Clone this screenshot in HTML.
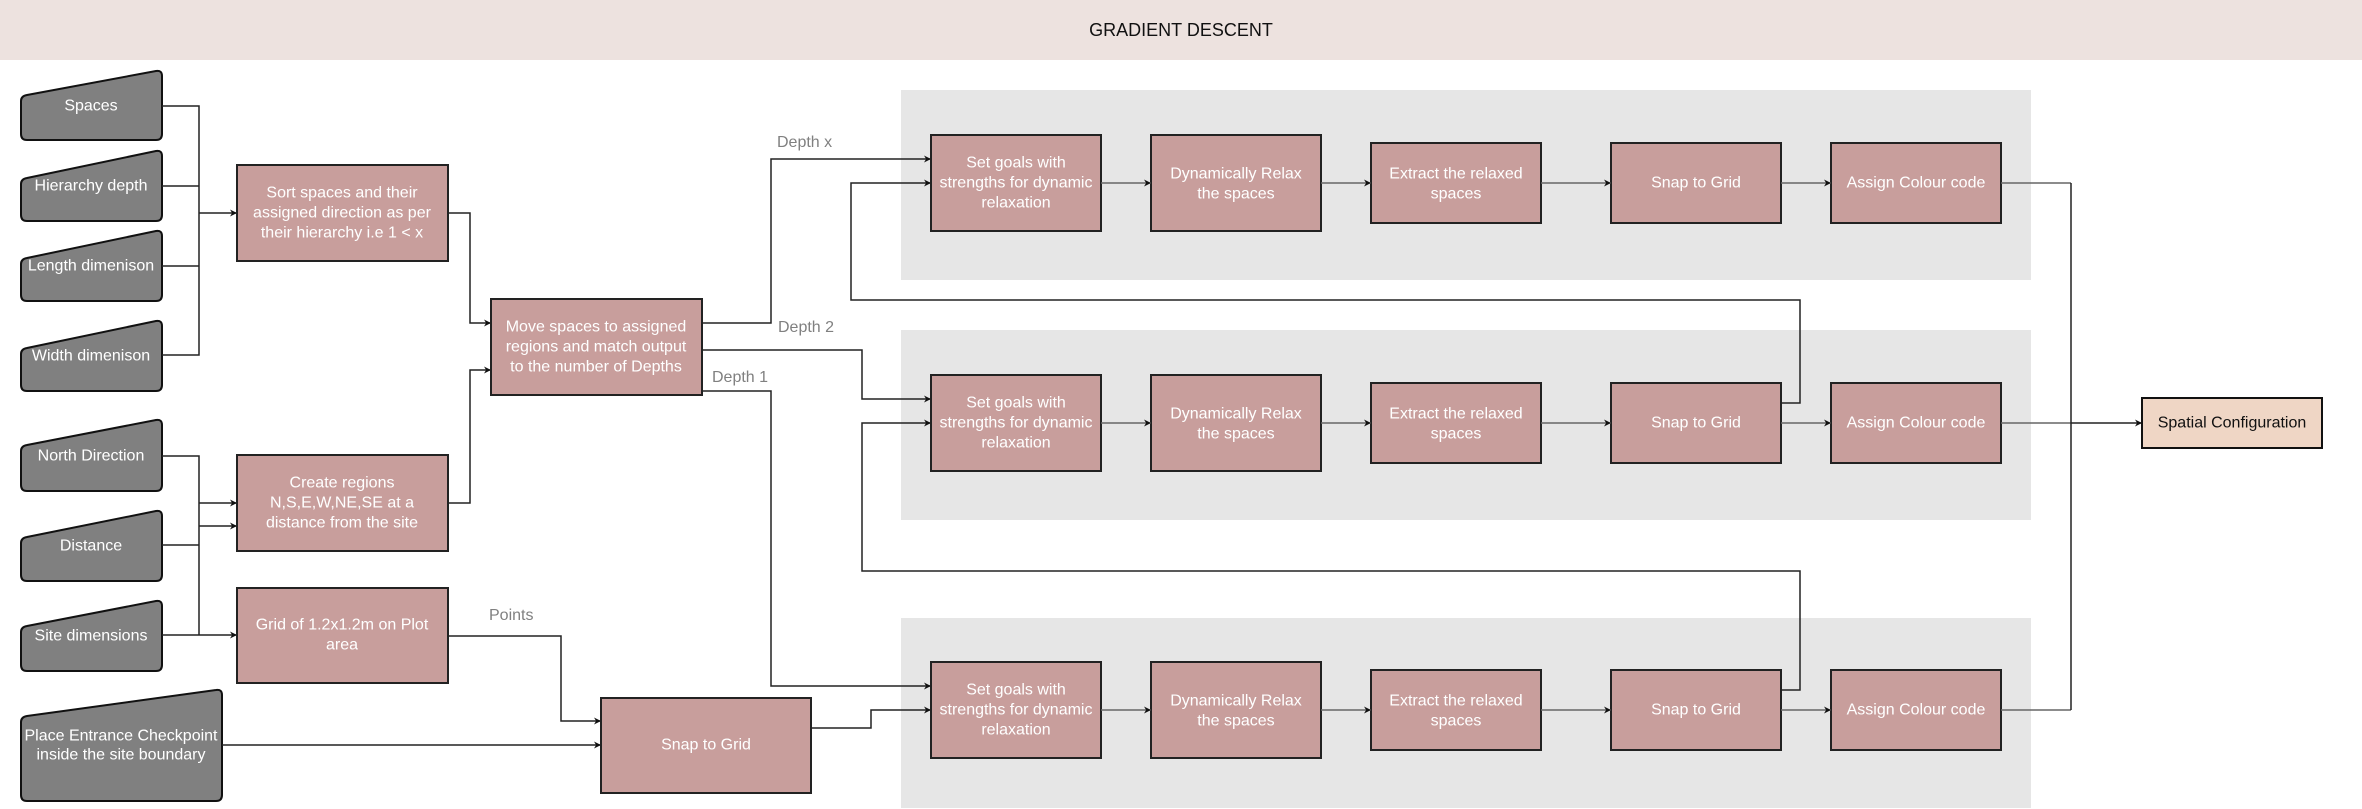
<!DOCTYPE html>
<html><head><meta charset="utf-8"><style>
html,body{margin:0;padding:0;background:#fff;}
svg{display:block;font-family:"Liberation Sans",Arial,sans-serif;}
.b{fill:#C89E9C;stroke:#222;stroke-width:2;}
.t{fill:#fff;font-size:16px;text-anchor:middle;dominant-baseline:central;}
.l{fill:none;stroke:#222;stroke-width:1.5;}
.g{fill:none;stroke:#666;stroke-width:1.5;}
.lab{fill:#808080;font-size:16px;}
.tr{fill:#808080;stroke:#111;stroke-width:2;stroke-linejoin:round;}
</style></head><body>
<svg width="2362" height="809" viewBox="0 0 2362 809" xmlns="http://www.w3.org/2000/svg">
<defs>
<marker id="a" viewBox="0 0 10 10" refX="10" refY="5" markerWidth="7" markerHeight="7" orient="auto" markerUnits="userSpaceOnUse"><path d="M0,0 L10,5 L0,10 L3,5 z" fill="#111"/></marker>
</defs>
<rect x="0" y="0" width="2362" height="60" fill="#EDE2DF"/>
<text x="1181" y="30" font-size="18" text-anchor="middle" dominant-baseline="central" fill="#111">GRADIENT DESCENT</text>

<rect x="901" y="90" width="1130" height="190" fill="#E6E6E6"/>
<rect x="901" y="330" width="1130" height="190" fill="#E6E6E6"/>
<rect x="901" y="618" width="1130" height="190" fill="#E6E6E6"/>

<g>
<path class="tr" d="M27,95 L156,71 Q162,70 162,76 L162,134 Q162,140 156,140 L27,140 Q21,140 21,134 L21,101 Q21,96 27,95 Z"/>
<text class="t" x="91" y="106">Spaces</text>
<path class="tr" d="M27,178 L156,151 Q162,150 162,156 L162,215 Q162,221 156,221 L27,221 Q21,221 21,215 L21,184 Q21,179 27,178 Z"/>
<text class="t" x="91" y="186">Hierarchy depth</text>
<path class="tr" d="M27,258 L156,231 Q162,230 162,236 L162,295 Q162,301 156,301 L27,301 Q21,301 21,295 L21,264 Q21,259 27,258 Z"/>
<text class="t" x="91" y="266">Length dimenison</text>
<path class="tr" d="M27,348 L156,321 Q162,320 162,326 L162,385 Q162,391 156,391 L27,391 Q21,391 21,385 L21,354 Q21,349 27,348 Z"/>
<text class="t" x="91" y="356">Width dimenison</text>
<path class="tr" d="M27,445 L156,420 Q162,419 162,425 L162,485 Q162,491 156,491 L27,491 Q21,491 21,485 L21,451 Q21,446 27,445 Z"/>
<text class="t" x="91" y="456">North Direction</text>
<path class="tr" d="M27,537 L156,511 Q162,510 162,516 L162,575 Q162,581 156,581 L27,581 Q21,581 21,575 L21,543 Q21,538 27,537 Z"/>
<text class="t" x="91" y="546">Distance</text>
<path class="tr" d="M27,626 L156,601 Q162,600 162,606 L162,665 Q162,671 156,671 L27,671 Q21,671 21,665 L21,632 Q21,627 27,626 Z"/>
<text class="t" x="91" y="636">Site dimensions</text>
<path class="tr" d="M27,716 L216,690 Q222,689 222,695 L222,795 Q222,801 216,801 L27,801 Q21,801 21,795 L21,722 Q21,717 27,716 Z"/>
<text class="t" x="121" y="736">Place Entrance Checkpoint</text>
<text class="t" x="121" y="755">inside the site boundary</text>
</g>

<path class="l" d="M162,106 H199 V355 H162 M162,186 H199 M162,266 H199"/>
<path class="l" d="M199,213 H237" marker-end="url(#a)"/>
<path class="l" d="M162,456 H199 V635 M162,545 H199"/>
<path class="l" d="M199,503 H237" marker-end="url(#a)"/>
<path class="l" d="M199,526 H237" marker-end="url(#a)"/>
<path class="l" d="M162,635 H237" marker-end="url(#a)"/>
<path class="l" d="M222,745 H601" marker-end="url(#a)"/>

<rect class="b" x="237" y="165" width="211" height="96"/>
<text class="t" x="342" y="193">Sort spaces and their</text>
<text class="t" x="342" y="213">assigned direction as per</text>
<text class="t" x="342" y="233">their hierarchy i.e 1 &lt; x</text>
<rect class="b" x="237" y="455" width="211" height="96"/>
<text class="t" x="342" y="483">Create regions</text>
<text class="t" x="342" y="503">N,S,E,W,NE,SE at a</text>
<text class="t" x="342" y="523">distance from the site</text>
<rect class="b" x="237" y="588" width="211" height="95"/>
<text class="t" x="342" y="625">Grid of 1.2x1.2m on Plot</text>
<text class="t" x="342" y="645">area</text>

<path class="l" d="M448,213 H470 V323 H491" marker-end="url(#a)"/>
<path class="l" d="M448,503 H470 V370 H491" marker-end="url(#a)"/>
<path class="l" d="M448,636 H561 V721 H601" marker-end="url(#a)"/>
<text class="lab" x="489" y="620">Points</text>

<rect class="b" x="491" y="299" width="211" height="96"/>
<text class="t" x="596" y="327">Move spaces to assigned</text>
<text class="t" x="596" y="347">regions and match output</text>
<text class="t" x="596" y="367">to the number of Depths</text>

<rect class="b" x="601" y="698" width="210" height="95"/>
<text class="t" x="706" y="745">Snap to  Grid</text>

<path class="l" d="M702,323 H771 V159 H931" marker-end="url(#a)"/>
<text class="lab" x="777" y="147">Depth x</text>
<path class="l" d="M702,350 H862 V399 H931" marker-end="url(#a)"/>
<text class="lab" x="778" y="332">Depth 2</text>
<path class="l" d="M702,391 H771 V686 H931" marker-end="url(#a)"/>
<text class="lab" x="712" y="382">Depth 1</text>
<path class="l" d="M811,728 H871 V710 H931" marker-end="url(#a)"/>

<path class="l" d="M1781,403 H1800 V300 H851 V183 H931" marker-end="url(#a)"/>
<path class="l" d="M1781,690 H1800 V571 H862 V423 H931" marker-end="url(#a)"/>

<g id="row1">
<rect class="b" x="931" y="135" width="170" height="96"/>
<text class="t" x="1016" y="163">Set goals with</text>
<text class="t" x="1016" y="183">strengths for dynamic</text>
<text class="t" x="1016" y="203">relaxation</text>
<rect class="b" x="1151" y="135" width="170" height="96"/>
<text class="t" x="1236" y="174">Dynamically Relax</text>
<text class="t" x="1236" y="194">the spaces</text>
<rect class="b" x="1371" y="143" width="170" height="80"/>
<text class="t" x="1456" y="174">Extract the relaxed</text>
<text class="t" x="1456" y="194">spaces</text>
<rect class="b" x="1611" y="143" width="170" height="80"/>
<text class="t" x="1696" y="183">Snap to Grid</text>
<rect class="b" x="1831" y="143" width="170" height="80"/>
<text class="t" x="1916" y="183">Assign Colour code</text>
<path class="g" d="M1101,183 H1151" marker-end="url(#a)"/>
<path class="g" d="M1321,183 H1371" marker-end="url(#a)"/>
<path class="g" d="M1541,183 H1611" marker-end="url(#a)"/>
<path class="g" d="M1781,183 H1831" marker-end="url(#a)"/>
<path class="g" d="M2001,183 H2071"/>
</g>
<use href="#row1" y="240"/>
<use href="#row1" y="527"/>

<path class="l" d="M2071,183 V710"/>
<path class="l" d="M2071,423 H2142" marker-end="url(#a)"/>
<rect x="2142" y="398" width="180" height="50" fill="#EFD6C5" stroke="#111" stroke-width="2"/>
<text x="2232" y="423" font-size="16" text-anchor="middle" dominant-baseline="central" fill="#111">Spatial Configuration</text>
</svg>
</body></html>
